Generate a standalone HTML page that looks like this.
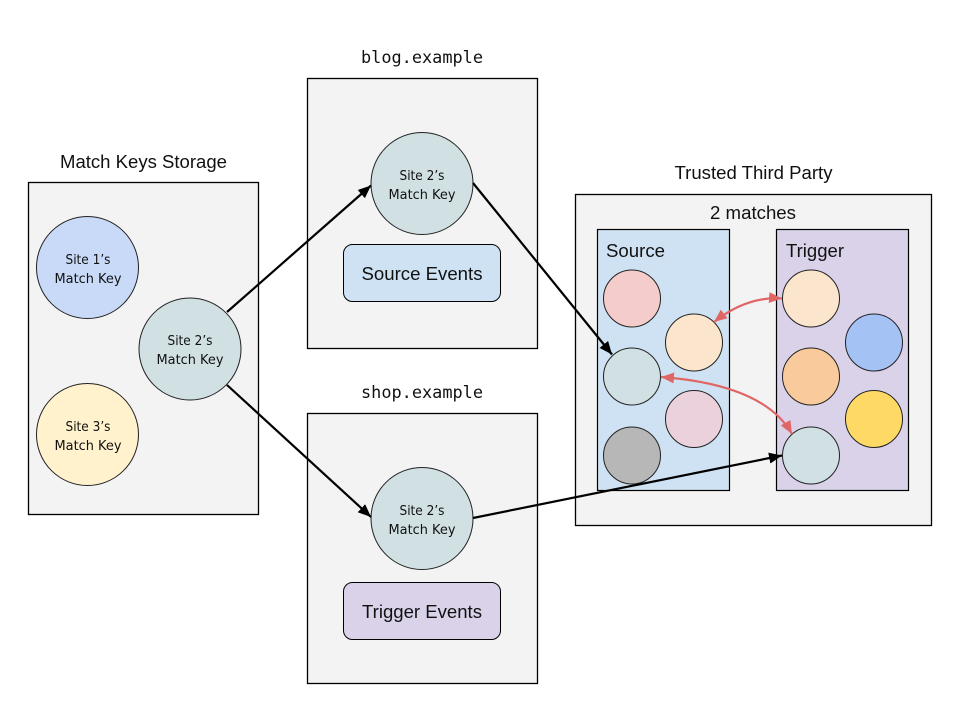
<!DOCTYPE html>
<html><head><meta charset="utf-8"><style>
html,body{margin:0;padding:0;background:#fff}
svg{display:block}
text{font-family:"Liberation Sans",sans-serif;fill:#111}
.m{font-family:"DejaVu Sans Mono",monospace;font-size:17px}
.k{font-family:"DejaVu Sans",sans-serif;font-size:13.5px;text-anchor:middle}
.t{font-size:18px;text-anchor:middle}
.b{fill:#f3f3f3;stroke:#000;stroke-width:1.3}
.c{stroke:#222;stroke-width:1}
.a{stroke:#000;stroke-width:2.2;fill:none}
.r{stroke:#e06666;stroke-width:2.2;fill:none}
</style></head><body>
<svg width="960" height="720" viewBox="0 0 960 720" xmlns="http://www.w3.org/2000/svg">
<defs>
<marker id="ah" markerUnits="userSpaceOnUse" markerWidth="15" markerHeight="12" refX="13" refY="5.5" orient="auto"><path d="M0 0L13 5.500L0 11Z" fill="#000"/></marker>
<marker id="rh" markerUnits="userSpaceOnUse" markerWidth="15" markerHeight="12" refX="13" refY="5.5" orient="auto-start-reverse"><path d="M0 0L13 5.500L0 11Z" fill="#e06666"/></marker>
</defs>
<rect width="960" height="720" fill="#fff"/>

<rect class="b" x="28.5" y="182.5" width="230" height="332"/>
<rect class="b" x="307.5" y="78.5" width="230" height="270"/>
<rect class="b" x="307.5" y="413.5" width="230" height="270"/>
<rect class="b" x="575.5" y="194.5" width="356" height="331"/>

<text class="t" x="143.5" y="168" textLength="167" lengthAdjust="spacingAndGlyphs">Match Keys Storage</text>
<text class="m" x="361" y="63" textLength="122" lengthAdjust="spacingAndGlyphs">blog.example</text>
<text class="m" x="361" y="398" textLength="122" lengthAdjust="spacingAndGlyphs">shop.example</text>
<text class="t" x="753.5" y="179" textLength="158" lengthAdjust="spacingAndGlyphs">Trusted Third Party</text>
<text class="t" x="753" y="219" textLength="86" lengthAdjust="spacingAndGlyphs">2 matches</text>

<circle class="c" cx="87.5" cy="267.5" r="51" fill="#c9daf8"/>
<circle class="c" cx="190" cy="349" r="51" fill="#d0e0e3"/>
<circle class="c" cx="87.5" cy="434.5" r="51" fill="#fff2cc"/>
<text class="k" x="88" y="264" textLength="45" lengthAdjust="spacingAndGlyphs">Site 1’s</text>
<text class="k" x="88" y="283" textLength="67" lengthAdjust="spacingAndGlyphs">Match Key</text>
<text class="k" x="190" y="345" textLength="45" lengthAdjust="spacingAndGlyphs">Site 2’s</text>
<text class="k" x="190" y="364" textLength="67" lengthAdjust="spacingAndGlyphs">Match Key</text>
<text class="k" x="88" y="431" textLength="45" lengthAdjust="spacingAndGlyphs">Site 3’s</text>
<text class="k" x="88" y="450" textLength="67" lengthAdjust="spacingAndGlyphs">Match Key</text>

<circle class="c" cx="422" cy="183.5" r="51" fill="#d0e0e3"/>
<text class="k" x="422" y="180" textLength="45" lengthAdjust="spacingAndGlyphs">Site 2’s</text>
<text class="k" x="422" y="199" textLength="67" lengthAdjust="spacingAndGlyphs">Match Key</text>
<rect x="343.5" y="244.5" width="157" height="57" rx="9" fill="#cfe2f3" stroke="#000"/>
<text class="t" x="422" y="280" textLength="121" lengthAdjust="spacingAndGlyphs">Source Events</text>

<circle class="c" cx="422" cy="518.5" r="51" fill="#d0e0e3"/>
<text class="k" x="422" y="515" textLength="45" lengthAdjust="spacingAndGlyphs">Site 2’s</text>
<text class="k" x="422" y="534" textLength="67" lengthAdjust="spacingAndGlyphs">Match Key</text>
<rect x="343.5" y="582.5" width="157" height="57" rx="9" fill="#d9d2e9" stroke="#000"/>
<text class="t" x="422" y="618" textLength="120" lengthAdjust="spacingAndGlyphs">Trigger Events</text>

<rect x="597.5" y="229.5" width="132" height="261" fill="#cfe2f3" stroke="#000" stroke-width="1.2"/>
<rect x="776.5" y="229.5" width="132" height="261" fill="#d9d2e9" stroke="#000" stroke-width="1.2"/>
<text x="606" y="257" font-size="18" textLength="59" lengthAdjust="spacingAndGlyphs">Source</text>
<text x="786" y="257" font-size="18" textLength="58" lengthAdjust="spacingAndGlyphs">Trigger</text>

<circle class="c" cx="632" cy="298.5" r="28.5" fill="#f4cccc"/>
<circle class="c" cx="694" cy="342.5" r="28.5" fill="#fce5cd"/>
<circle class="c" cx="632" cy="376.5" r="28.5" fill="#d0e0e3"/>
<circle class="c" cx="694" cy="419" r="28.5" fill="#ead1dc"/>
<circle class="c" cx="632" cy="455.5" r="28.5" fill="#b7b7b7"/>
<circle class="c" cx="811" cy="298.5" r="28.5" fill="#fce5cd"/>
<circle class="c" cx="874" cy="342.5" r="28.5" fill="#a4c2f4"/>
<circle class="c" cx="811" cy="376.5" r="28.5" fill="#f9cb9c"/>
<circle class="c" cx="874" cy="419" r="28.5" fill="#ffd966"/>
<circle class="c" cx="811" cy="455.5" r="28.5" fill="#d0e0e3"/>

<path class="a" d="M227 312L371 185.500" marker-end="url(#ah)"/>
<path class="a" d="M227 385L371 517" marker-end="url(#ah)"/>
<path class="a" d="M473 183L612 354.500" marker-end="url(#ah)"/>
<path class="a" d="M473 518L782 455.500" marker-end="url(#ah)"/>
<path class="r" d="M714 322Q747 296 782 298.500" marker-start="url(#rh)" marker-end="url(#rh)"/>
<path class="r" d="M661 377C715 381 770 395 792 434" marker-start="url(#rh)" marker-end="url(#rh)"/>
</svg>
</body></html>
